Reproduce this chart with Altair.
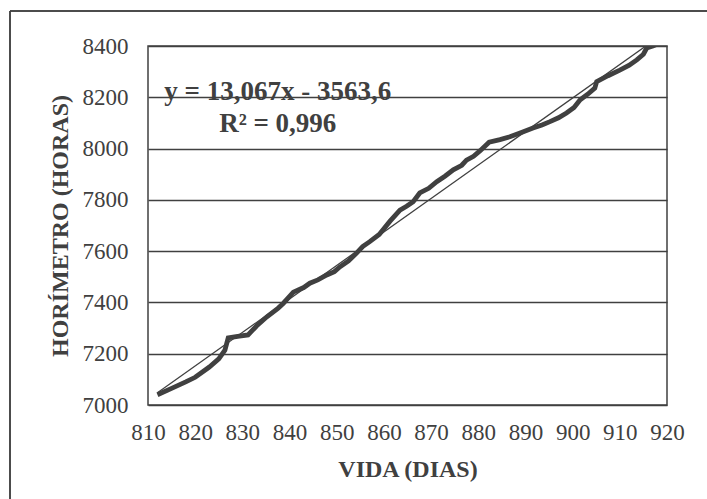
import altair as alt
import pandas as pd

dias = [812, 815, 818, 820, 823, 825, 826.3, 827, 829, 831.2, 833, 835.2, 837.6,
        838.7, 840.8, 843, 844.3, 846, 847.9, 849.5, 850.7, 852.5, 854.2, 855.5,
        857, 859, 861.3, 863.4, 864.8, 866.2, 867.6, 869.5, 871.2, 873, 874.7,
        876.5, 877.5, 879, 880.4, 882.3, 884.6, 886.7, 889, 891.6, 893.5, 895.2,
        897, 898.7, 900.3, 901.6, 903.2, 904.7, 905.1, 907.5, 910, 912, 913.6,
        915, 915.7, 917, 918]
horas = [7040, 7065, 7090, 7108, 7148, 7180, 7214, 7262, 7268, 7273, 7308, 7344, 7378,
         7397, 7440, 7458, 7475, 7488, 7507, 7520, 7539, 7562, 7592, 7618,
         7637, 7665, 7717, 7760, 7775, 7793, 7827, 7845, 7871, 7893, 7917,
         7935, 7955, 7970, 7992, 8025, 8035, 8046, 8062, 8080, 8092, 8105,
         8120, 8139, 8160, 8190, 8212, 8236, 8261, 8284, 8306, 8325, 8346,
         8368, 8392, 8400, 8408]

eq_text = ["y = 13,067x - 3563,6", "R² = 0,996"]
eq_x = [837.5, 837.5]
eq_y = [8222, 8096]

df = pd.DataFrame({"dias": dias, "horas": horas})
eq = pd.DataFrame({"t": eq_text, "x": eq_x, "y": eq_y})

FONT = "Times New Roman, Liberation Serif, serif"
C = "#404040"

xs = alt.Scale(domain=[810, 920], nice=False)
ys = alt.Scale(domain=[7000, 8400], nice=False)

base = alt.Chart(df)

line = base.mark_line(color=C, strokeWidth=4.8, clip=True).encode(
    x=alt.X("dias:Q", scale=xs, title="VIDA (DIAS)",
            axis=alt.Axis(values=list(range(810, 921, 10)), grid=False,
                          format="d", labelOverlap=False, labelFlush=False)),
    y=alt.Y("horas:Q", scale=ys, title="HORÍMETRO (HORAS)",
            axis=alt.Axis(values=list(range(7000, 8401, 200)), grid=True,
                          format="d", labelOverlap=False, labelFlush=False)),
)

trend = base.transform_regression("dias", "horas", extent=[812, 918]).mark_line(
    color=C, strokeWidth=1.3, clip=True
).encode(x=alt.X("dias:Q", scale=xs), y=alt.Y("horas:Q", scale=ys))

text = alt.Chart(eq).mark_text(
    font=FONT, fontSize=27, fontWeight="bold", color=C, align="center", baseline="middle"
).encode(x=alt.X("x:Q", scale=xs), y=alt.Y("y:Q", scale=ys), text="t:N")

border_v = alt.Chart(eq).mark_rule(color=C, strokeWidth=1.5).encode(
    x=alt.value(-138), y=alt.value(-35), y2=alt.value(700))
border_h = alt.Chart(eq).mark_rule(color=C, strokeWidth=1.5).encode(
    x=alt.value(-138), x2=alt.value(800), y=alt.value(-35))

chart = alt.layer(line, trend, text, border_v, border_h).properties(
    width=519, height=359,
    autosize=alt.AutoSizeParams(type="none"),
    padding={"left": 148, "top": 46, "right": 40, "bottom": 94},
    background="white",
).configure_view(
    stroke=C, strokeWidth=1.5
).configure_axis(
    domain=False, ticks=False,
    labelFont=FONT, labelFontSize=23, labelColor=C,
    titleFont=FONT, titleFontSize=24, titleFontWeight="bold", titleColor=C,
    gridColor=C, gridWidth=1.5, gridOpacity=1,
).configure_axisX(
    labelPadding=16, titlePadding=13
).configure_axisY(
    labelPadding=20, titlePadding=10
)

chart.save("out.html", embed_options={"renderer": "svg", "actions": False})
